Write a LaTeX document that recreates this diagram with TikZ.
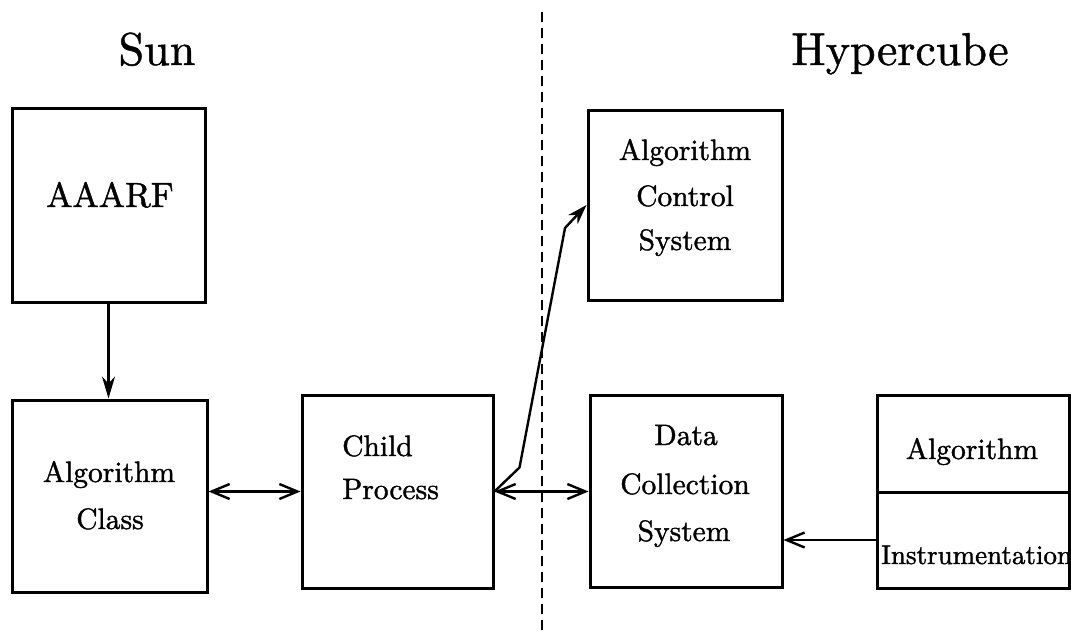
\documentclass[tikz,border=0pt]{standalone}
\usepackage{fontspec}
\usetikzlibrary{arrows.meta}
\newfontfamily\labfam{lmroman10-regular.otf}[FakeBold=1.3]
\newfontfamily\headfam{lmroman10-regular.otf}[FakeBold=1]
\newcommand{\headfnt}{\headfam\fontsize{46}{50}\selectfont}
\newcommand{\labfnt}{\labfam\fontsize{29.5}{34}\selectfont}
\newcommand{\smallfnt}{\labfam\fontsize{27}{32}\selectfont}
\newcommand{\bigfnt}{\labfam\fontsize{35}{40}\selectfont}
\begin{document}
\begin{tikzpicture}[x=1pt,y=-1pt,
  box/.style={draw, line width=3pt, inner sep=0pt, rectangle},
  lab/.style={inner sep=0pt, anchor=base, font=\labfnt},
  head/.style={inner sep=0pt, anchor=base, font=\headfnt},
  conn/.style={line width=2.4pt},
  openhead/.style={conn, {Straight Barb[length=18pt,width=15pt,line width=2.4pt]}-{Straight Barb[length=18pt,width=15pt,line width=2.4pt]}},
  onehead/.style={conn, -{Straight Barb[length=18pt,width=15pt,line width=2.4pt]}},
  solidhead/.style={conn, -{Stealth[length=22pt,width=13pt]}},
  divider/.style={line width=2.8pt, dash pattern=on 10pt off 6pt}
]
\useasboundingbox (0,0) rectangle (1071,633);
\fill[white] (0,0) rectangle (1071,633);

% headings
\node[head] (sun) at (157,65) {Sun};
\node[head] (hyper) at (900,65) {Hypercube};

% divider
\draw[divider] (542,12) -- (542,633);

% boxes
\node[box, minimum width=193pt, minimum height=194pt] (aaarf) at (108.5,205) {};
\node[box, minimum width=195pt, minimum height=192pt] (algclass) at (109.5,496) {};
\node[box, minimum width=191pt, minimum height=193pt] (child) at (397.5,491.5) {};
\node[box, minimum width=194pt, minimum height=190pt] (acs) at (685,205) {};
\node[box, minimum width=192pt, minimum height=192pt] (dcs) at (686,491) {};
\node[box, minimum width=192pt, minimum height=97pt] (algtop) at (973,443.5) {};
\node[box, minimum width=192pt, minimum height=96pt] (instr) at (973,540) {};

% texts
\node[inner sep=0pt, anchor=base, font=\bigfnt] (taaarf) at (110,207) {AAARF};
\node[lab] (tac1) at (109,482) {Algorithm};
\node[lab] (tac2) at (110,529) {Class};
\node[lab, anchor=base west] (tcp1) at (342,456) {Child};
\node[lab, anchor=base west] (tcp2) at (342,499) {Process};
\node[lab] (tacs1) at (685,160) {Algorithm};
\node[lab] (tacs2) at (685,206) {Control};
\node[lab] (tacs3) at (685,250) {System};
\node[lab] (tdcs1) at (686,445) {Data};
\node[lab] (tdcs2) at (685,494) {Collection};
\node[lab] (tdcs3) at (684,541) {System};
\node[lab] (talg) at (972,459) {Algorithm};
\node[lab, anchor=base west, font=\smallfnt] (tinstr) at (881,564) {Instrumentation};

% connectors
\draw[solidhead] (aaarf.south) -- (aaarf.south |- algclass.north);
\draw[openhead] (algclass.east |- child.west) -- (child.west);
\draw[openhead] (child.east) -- (child.east -| dcs.west);
\draw[conn, -{Stealth[length=20pt,width=13pt]}] (child.east) -- ++(25,-24) -- (565,228) -- (acs.west);
\draw[onehead] (instr.west) -- (instr.west -| dcs.east);
\end{tikzpicture}
\end{document}
